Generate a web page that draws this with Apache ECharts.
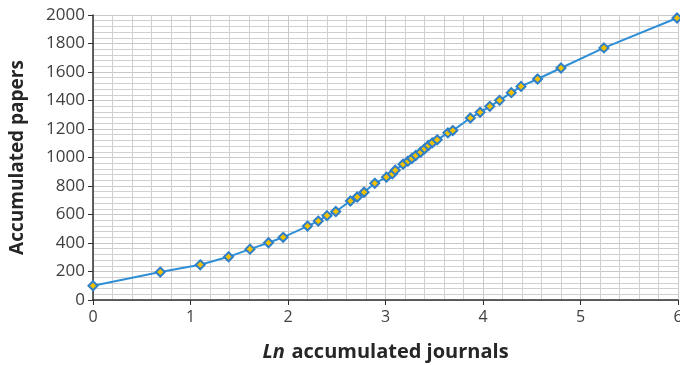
<!DOCTYPE html>
<html><head><meta charset="utf-8">
<script src="https://cdn.jsdelivr.net/npm/echarts@6/dist/echarts.min.js"></script>
<style>html,body{margin:0;padding:0;background:#fff}#c{width:680px;height:365px}</style>
</head><body><div id="c"></div>
<script>
const lnJournals = [0, 0.69, 1.10, 1.39, 1.61, 1.80, 1.95, 2.20, 2.31, 2.40, 2.49, 2.64, 2.71, 2.78, 2.89, 3.01, 3.07, 3.10, 3.18, 3.23, 3.27, 3.31, 3.36, 3.40, 3.44, 3.48, 3.53, 3.64, 3.69, 3.87, 3.97, 4.07, 4.17, 4.29, 4.39, 4.56, 4.80, 5.24, 5.99];
const accPapers = [100, 196, 247, 303, 357, 402, 440, 519, 554, 592, 621, 695, 723, 756, 819, 862, 885, 911, 953, 974, 993, 1014, 1037, 1061, 1084, 1103, 1124, 1173, 1189, 1277, 1317, 1359, 1401, 1455, 1499, 1551, 1628, 1769, 1979];
const xTicks = [0, 1, 2, 3, 4, 5, 6];
const yTicks = [0, 200, 400, 600, 800, 1000, 1200, 1400, 1600, 1800, 2000];

const chart = echarts.init(document.getElementById('c'), null, {renderer: 'canvas'});
const font = '"Open Sans", "Noto Sans", sans-serif';
chart.setOption({
  animation: false,
  grid: {left: 93, right: 2, top: 15, bottom: 65, containLabel: false, outerBoundsMode: 'none'},
  xAxis: {
    type: 'value', min: xTicks[0], max: xTicks[xTicks.length - 1], interval: 1,
    axisLine: {lineStyle: {color: '#303030', width: 1.5}},
    axisTick: {show: true, length: 5, lineStyle: {color: '#303030'}},
    axisLabel: {color: '#404040', fontSize: 16, fontFamily: font, margin: 9, formatter: v => String(v)},
    splitLine: {show: true, lineStyle: {color: '#c8c8c8', width: 1}},
    minorTick: {show: false, splitNumber: 5},
    minorSplitLine: {show: true, lineStyle: {color: '#d0d0d0', width: 1}},
    name: '{i|Ln}  {b|accumulated journals}',
    nameLocation: 'middle', nameGap: 42,
    nameTextStyle: {
      rich: {
        i: {fontStyle: 'italic', fontWeight: 'bold', fontSize: 20, color: '#262626', fontFamily: font},
        b: {fontWeight: 'bold', fontSize: 20, color: '#262626', fontFamily: font}
      }
    }
  },
  yAxis: {
    type: 'value', min: yTicks[0], max: yTicks[yTicks.length - 1], interval: 200,
    axisLine: {show: true, lineStyle: {color: '#303030', width: 1.5}},
    axisTick: {show: true, length: 5, lineStyle: {color: '#303030'}},
    axisLabel: {color: '#404040', fontSize: 17, fontFamily: font, margin: 8, formatter: v => String(v)},
    splitLine: {show: true, lineStyle: {color: '#c8c8c8', width: 1}},
    minorTick: {show: false, splitNumber: 5},
    minorSplitLine: {show: true, lineStyle: {color: '#d0d0d0', width: 1}},
    name: 'Accumulated papers', nameLocation: 'middle', nameGap: 66,
    nameTextStyle: {fontWeight: 'bold', fontSize: 19, color: '#262626', fontFamily: font}
  },
  series: [{
    type: 'line',
    data: lnJournals.map((x, i) => [x, accPapers[i]]),
    symbol: 'diamond', symbolSize: 9,
    lineStyle: {color: '#2f8fd6', width: 2},
    itemStyle: {color: '#f2c200', borderColor: '#2f7fc8', borderWidth: 2}
  }]
});
</script></body></html>
